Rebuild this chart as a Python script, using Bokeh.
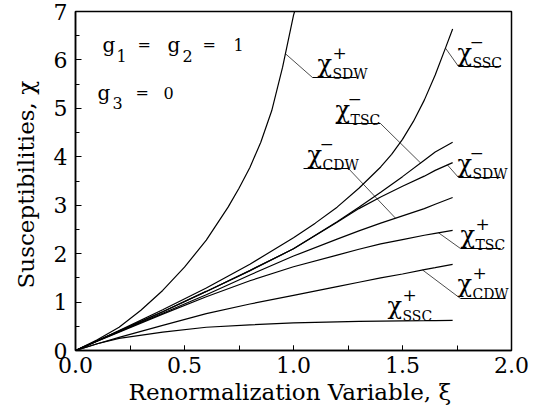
import numpy as np
from bokeh.plotting import figure
from bokeh.models import ColumnDataSource, Range1d, SingleIntervalTicker, PrintfTickFormatter
from bokeh.embed import file_html
from bokeh.resources import INLINE
from bokeh.core.properties import value

# ---------------- data ----------------
XI = [0, 0.1, 0.2, 0.4, 0.6, 0.8, 1.0, 1.2, 1.3, 1.4, 1.5, 1.6, 1.65, 1.73]
TSC_m = [0, 0.20, 0.40, 0.80, 1.22, 1.65, 2.10, 2.66, 2.96, 3.27, 3.59, 3.93, 4.10, 4.30]
SDW_m = [0, 0.20, 0.40, 0.80, 1.22, 1.65, 2.10, 2.65, 2.93, 3.17, 3.39, 3.60, 3.72, 3.88]
CDW_m = [0, 0.195, 0.39, 0.77, 1.15, 1.56, 1.95, 2.30, 2.47, 2.63, 2.78, 2.93, 3.02, 3.16]
TSC_p = [0, 0.19, 0.38, 0.75, 1.11, 1.44, 1.73, 1.97, 2.09, 2.20, 2.29, 2.38, 2.42, 2.48]
CDW_p = [0, 0.14, 0.27, 0.52, 0.76, 0.96, 1.14, 1.32, 1.41, 1.50, 1.58, 1.67, 1.71, 1.78]
SSC_p = [0, 0.14, 0.25, 0.38, 0.48, 0.53, 0.57, 0.59, 0.60, 0.605, 0.61, 0.615, 0.618, 0.62]

XI_SSC_m = [0, 0.1, 0.2, 0.4, 0.6, 0.8, 1.0, 1.1, 1.2, 1.3, 1.4, 1.45, 1.5, 1.55, 1.6, 1.65, 1.7, 1.73]
SSC_m = [0, 0.20, 0.41, 0.84, 1.29, 1.78, 2.33, 2.63, 2.96, 3.35, 3.79, 4.05, 4.36, 4.73, 5.17, 5.69, 6.28, 6.64]

XI_SDW_p = [0, 0.1, 0.2, 0.3, 0.4, 0.5, 0.6, 0.7, 0.75, 0.8, 0.85, 0.9, 0.95, 1.0, 1.005]
SDW_p = [0, 0.22, 0.48, 0.83, 1.24, 1.72, 2.28, 2.96, 3.35, 3.78, 4.30, 4.95, 5.85, 6.92, 7.0]

curves = {
    "SDW+": (XI_SDW_p, SDW_p),
    "SSC-": (XI_SSC_m, SSC_m),
    "TSC-": (XI, TSC_m),
    "SDW-": (XI, SDW_m),
    "CDW-": (XI, CDW_m),
    "TSC+": (XI, TSC_p),
    "CDW+": (XI, CDW_p),
    "SSC+": (XI, SSC_p),
}

X_TICKS_INTERVAL = 0.5
Y_TICKS_INTERVAL = 1

# ---------------- label layout (data units) ----------------
# name, sign, subscript, chi left, underline level, underline x0, x1, leader start, leader target xi
label_layout = [
    ("SDW+", "+", "SDW", 1.110, 5.637, 1.087, 1.289, "x0", 0.963),
    ("SSC-", "\u2212", "SSC", 1.752, 5.864, 1.757, 1.950, "x0", 1.697),
    ("TSC-", "\u2212", "TSC", 1.193, 4.687, 1.193, 1.399, "x1", 1.583),
    ("CDW-", "\u2212", "CDW", 1.064, 3.758, 1.046, 1.252, "x1", 1.468),
    ("SDW-", "\u2212", "SDW", 1.752, 3.572, 1.757, 1.950, "x0", 1.706),
    ("TSC+", "+", "TSC", 1.766, 2.106, 1.766, 1.950, "x0", 1.665),
    ("CDW+", "+", "CDW", 1.752, 1.074, 1.766, 1.972, "x0", 1.592),
    ("SSC+", "+", "SSC", 1.431, 0.640, None, None, None, None),
]

FONT = "DejaVu Serif"

p = figure(width=531, height=412, output_backend="svg", toolbar_location=None,
           x_range=Range1d(0, 2), y_range=Range1d(0, 7),
           min_border_left=75, min_border_right=20, min_border_top=11, min_border_bottom=62,
           background_fill_color="white", border_fill_color="white")

p.xgrid.visible = False
p.ygrid.visible = False
p.outline_line_color = "black"
p.outline_line_width = 1.5

p.xaxis.ticker = SingleIntervalTicker(interval=X_TICKS_INTERVAL, num_minor_ticks=2)
p.yaxis.ticker = SingleIntervalTicker(interval=Y_TICKS_INTERVAL, num_minor_ticks=2)
p.xaxis.formatter = PrintfTickFormatter(format="%.1f")
p.yaxis.formatter = PrintfTickFormatter(format="%d")

for ax in (p.xaxis[0], p.yaxis[0]):
    ax.axis_line_color = "black"
    ax.axis_line_width = 1.5
    ax.major_tick_in = 6
    ax.major_tick_out = 0
    ax.minor_tick_in = 4
    ax.minor_tick_out = 0
    ax.major_tick_line_color = "black"
    ax.minor_tick_line_color = "black"
    ax.major_label_text_font = FONT
    ax.major_label_text_font_size = "22px"
    ax.major_label_text_color = "black"
    ax.axis_label_text_font = FONT
    ax.axis_label_text_font_size = "23px"
    ax.axis_label_text_font_style = "normal"
    ax.axis_label_text_color = "black"

p.xaxis.major_tick_in = 5
p.xaxis.minor_tick_in = 5
p.xaxis.major_label_standoff = 6
p.yaxis.major_label_standoff = 8
p.xaxis.axis_label = "Renormalization Variable,  \u03be"
p.yaxis.axis_label = "Susceptibilities,  \u03c7"
p.xaxis.axis_label_standoff = 3
p.yaxis.axis_label_standoff = 12

# curves
for name, (xs, ys) in curves.items():
    p.line(xs, ys, line_color="black", line_width=1.2)

# labels
chi_x, chi_y = [], []
sup_x, sup_y, sup_t, sup_off = [], [], [], []
sub_x, sub_y, sub_t = [], [], []
ul_x0, ul_x1, ul_y = [], [], []
ld_x0, ld_y0, ld_x1, ld_y1 = [], [], [], []
for name, sign, sub, cx, uy, ux0, ux1, lfrom, tgt in label_layout:
    chi_x.append(cx); chi_y.append(uy)
    sup_x.append(cx); sup_y.append(uy); sup_t.append(sign)
    sup_off.append(15 if sign == "+" else 12)
    sub_x.append(cx); sub_y.append(uy); sub_t.append(sub)
    if ux0 is not None:
        ul_x0.append(ux0); ul_x1.append(ux1); ul_y.append(uy)
        xs, ys = curves[name]
        start = ux0 if lfrom == "x0" else ux1
        ld_x0.append(start); ld_y0.append(uy)
        ld_x1.append(tgt); ld_y1.append(float(np.interp(tgt, xs, ys)))

p.segment(x0=ul_x0, y0=ul_y, x1=ul_x1, y1=ul_y, line_color="black", line_width=1.0)
p.segment(x0=ld_x0, y0=ld_y0, x1=ld_x1, y1=ld_y1, line_color="black", line_width=0.7)

p.text(x=chi_x, y=chi_y, text=["\u03c7"] * len(chi_x), y_offset=-14,
       text_font=value(FONT), text_font_size=value("24px"), text_color="black",
       text_baseline="alphabetic", text_align="left")
p.text(x=sup_x, y=sup_y, text=sup_t, x_offset=sup_off, y_offset=-25,
       text_font=value(FONT), text_font_size=value("17px"), text_color="black",
       text_baseline="alphabetic", text_align="left")
p.text(x=sub_x, y=sub_y, text=sub_t, x_offset=15, y_offset=-4,
       text_font=value(FONT), text_font_size=value("14px"), text_color="black",
       text_baseline="alphabetic", text_align="left")

# parameter annotation
g_src = ColumnDataSource(dict(
    x=[0.124, 0.422, 0.101],
    y=[6.318, 6.318, 5.327],
    t=["g", "g", "g"]))
p.text(x="x", y="y", text="t", source=g_src, text_font=value(FONT),
       text_font_size=value("20px"), text_color="black", text_baseline="alphabetic")
n_src = ColumnDataSource(dict(
    x=[0.188, 0.491, 0.170, 0.284, 0.583, 0.725, 0.275, 0.404],
    y=[6.318, 6.318, 5.327, 6.318, 6.318, 6.318, 5.327, 5.327],
    t=["1", "2", "3", "=", "=", "1", "=", "0"],
    dy=[11, 11, 10, 0, 0, 0, 0, 0]))
p.text(x="x", y="y", text="t", source=n_src, y_offset="dy", text_font=value(FONT),
       text_font_size=value("16px"), text_color="black", text_baseline="alphabetic")

open("out.html", "w").write(file_html(p, INLINE))
